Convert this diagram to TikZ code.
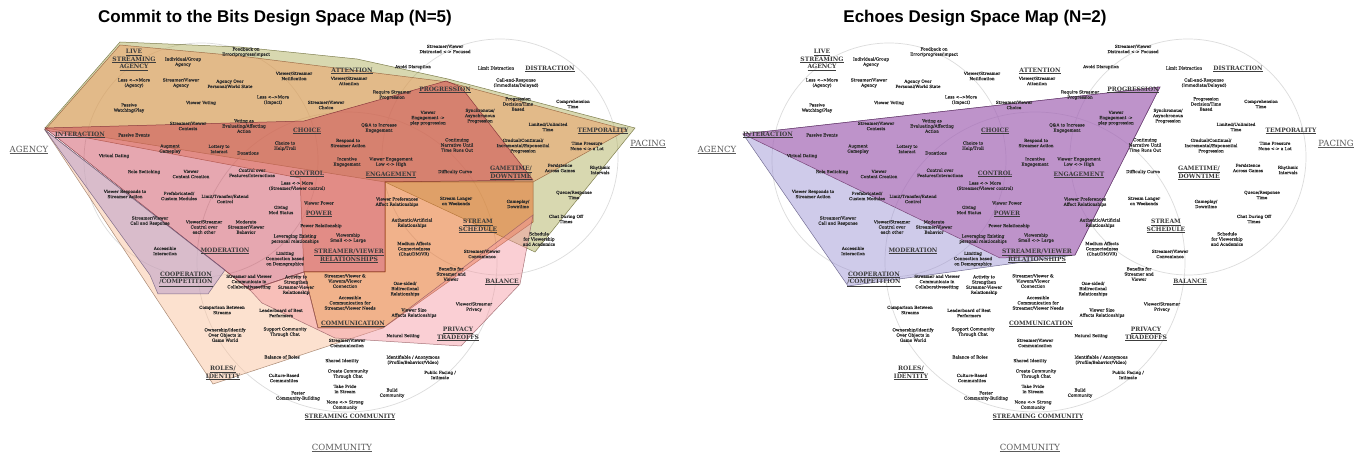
\documentclass[tikz,border=0pt]{standalone}
\usepackage{fontspec}
\setmainfont{DejaVu Serif}
\newfontfamily\itemfont{DejaVu Serif}[FakeBold=0.4]
\newfontfamily\titlefont{Liberation Sans}
\usetikzlibrary{backgrounds}
\definecolor{ringgray}{RGB}{220,220,220}
\definecolor{itemgray}{RGB}{45,45,45}
\definecolor{catgray}{RGB}{60,60,60}
\definecolor{axisgray}{RGB}{90,90,90}
\definecolor{cbolive}{RGB}{170,170,80}
\definecolor{cborange}{RGB}{240,150,90}
\definecolor{cbred}{RGB}{200,60,80}
\definecolor{cbamber}{RGB}{230,115,45}
\definecolor{cbmauve}{RGB}{175,145,200}
\definecolor{cbpeach}{RGB}{250,190,150}
\definecolor{cbpink}{RGB}{245,150,160}
\definecolor{echlav}{RGB}{150,140,210}
\definecolor{echpurple}{RGB}{170,80,165}
\tikzset{
  item/.style={font=\itemfont\fontsize{4.2}{5.2}\selectfont, align=center, text=itemgray, inner sep=0pt},
  cat/.style={font=\fontsize{6}{7.8}\selectfont\bfseries, align=center, text=catgray, inner sep=0pt},
  axis/.style={font=\fontsize{8.5}{10}\selectfont, text=axisgray, inner sep=0pt},
  heading/.style={font=\titlefont\bfseries\fontsize{17}{20}\selectfont, inner sep=0pt},
  ring/.style={draw=ringgray, line width=0.7pt},
  area/.style={fill opacity=0.45, draw opacity=0.8, line width=0.5pt},
}
\newcommand{\ul}[1]{\underline{#1}}
% the three rings of one map
\newcommand{\mapRings}{%
  \draw[ring] (201,160) circle (117);
  \draw[ring] (500,157) circle (118);
  \draw[ring] (347,262) circle (150);
}
% all the codes of one map
\newcommand{\mapLabels}{%
  \node[axis] (agency) at (29,150) {\ul{AGENCY}};
  \node[axis] (pacing) at (648,144) {\ul{PACING}};
  \node[axis] (community) at (342,448) {\ul{COMMUNITY}};
  % agency
  \node[cat] (live) at (134,60) {\ul{LIVE}\\\ul{STREAMING}\\\ul{AGENCY}};
  \node[item] (group) at (183,62) {Individual/Group\\Agency};
  \node[item] (lessag) at (134,83) {Less <-{}->More\\(Agency)};
  \node[item] (svag) at (181,83) {Streamer/Viewer\\Agency};
  \node[item] (world) at (230,84) {Agency Over\\Personal/World State};
  \node[item] (passive) at (129,108) {Passive\\Watching/Play};
  \node[item] (voting) at (201,103) {Viewer Voting};
  \node[cat] (interaction) at (80,135) {\ul{INTERACTION}};
  \node[item] (events) at (134,135) {Passive Events};
  \node[item] (contests) at (188,126) {Streamer/Viewer\\Contests};
  \node[item] (augment) at (170,149) {Augment\\Gameplay};
  \node[item] (lottery) at (219,149) {Lottery to\\Interact};
  \node[item] (dating) at (114,156) {Virtual Dating};
  \node[item] (roles) at (144,172) {Role Switching};
  \node[item] (content) at (191,174) {Viewer\\Content Creation};
  \node[item] (evaluate) at (244,126) {Voting as\\Evaluating/Affecting\\Action};
  \node[item] (feedback) at (246,52) {Feedback on\\Error/progress/impact};
  \node[item] (notify) at (294,76) {Viewer/Streamer\\Notification};
  \node[cat] (attention) at (352,71) {\ul{ATTENTION}};
  \node[item] (vsatt) at (349,81) {Viewer/Streamer\\Attention};
  \node[item] (disrupt) at (413,67) {Avoid Disruption};
  \node[item] (focus) at (445,49) {Streamer/Viewer\\Distracted <-> Focused};
  \node[item] (lessimp) at (273,100) {Less <-{}->More\\(Impact)};
  \node[item] (svchoice) at (326,105) {Streamer/Viewer\\Choice};
  \node[item] (require) at (392,95) {Require Streamer\\Progression};
  \node[cat] (progression) at (445,90) {\ul{PROGRESSION}};
  \node[item] (playprog) at (428,118) {Viewer\\Engagement ->\\play progression};
  \node[cat] (choice) at (307,131) {\ul{CHOICE}};
  \node[item] (qa) at (379,128) {Q\&A to Increase\\Engagement};
  \node[item] (troll) at (285,146) {Choice to\\Help/Troll};
  \node[item] (respond) at (348,143) {Respond to\\Streamer Action};
  \node[item] (donate) at (248,153) {Donations};
  \node[item] (incentive) at (347,162) {Incentive\\Engagement};
  \node[item] (lowhigh) at (391,162) {Viewer Engagement\\Low <-> High};
  \node[item] (features) at (252,173) {Control over\\Features/Interactions};
  \node[cat] (control) at (307,174) {\ul{CONTROL}};
  \node[cat] (engagement) at (391,175) {\ul{ENGAGEMENT}};
  % pacing
  \node[item] (narrative) at (457,145) {Continuing\\Narrative Until\\Time Runs Out};
  \node[item] (difficulty) at (455,172) {Difficulty Curve};
  \node[item] (sync) at (480,116) {Synchronous/\\Asynchronous\\Progression};
  \node[item] (limit) at (496,68) {Limit Distraction};
  \node[cat] (distraction) at (550,69) {\ul{DISTRACTION}};
  \node[item] (callresp) at (516,83) {Call-and-Response\\(Immediate/Delayed)};
  \node[item] (decision) at (518,104) {Progression\\Decision/Time\\Based};
  \node[item] (compre) at (573,104) {Comprehension\\Time};
  \node[item] (unlimited) at (548,127) {Limited/Unlimited\\Time};
  \node[cat] (temporality) at (603,131) {\ul{TEMPORALITY}};
  \node[item] (gradual) at (523,146) {Gradual/Continual/\\Incremental/Exponential\\Progression};
  \node[item] (pressure) at (587,146) {Time Pressure\\None <-> a Lot};
  \node[item] (persist) at (560,168) {Persistence\\Across Games};
  \node[item] (rhythm) at (600,170) {Rhythmic\\Intervals};
  \node[cat] (gametime) at (511,173) {\ul{GAMETIME/}\\\ul{DOWNTIME}};
  \node[item] (weekends) at (456,201) {Stream Longer\\on Weekends};
  \node[item] (downtime) at (518,204) {Gameplay/\\Downtime};
  \node[cat] (schedule) at (478,226) {\ul{STREAM}\\\ul{SCHEDULE}};
  \node[item] (queue) at (574,195) {Queue/Response\\Time};
  \node[item] (offtimes) at (566,219) {Chat During Off\\Times};
  \node[item] (academics) at (539,239) {Schedule\\for Viewership\\and Academics};
  \node[item] (convenience) at (482,254) {Streamer/Viewer\\Convenience};
  \node[item] (benefits) at (451,274) {Benefits for\\Streamer and\\Viewer};
  \node[cat] (balance) at (502,282) {\ul{BALANCE}};
  % relationships
  \node[item] (prefs) at (397,202) {Viewer Preferences\\Affect Relationships};
  \node[item] (authentic) at (412,223) {Authentic/Artificial\\Relationships};
  \node[item] (medium) at (414,249) {Medium Affects\\Connectedness\\(Chat/DM/VR)};
  \node[item] (lessctrl) at (297,186) {Less <-> More\\(Streamer/Viewer control)};
  \node[item] (vpower) at (319,203) {Viewer Power};
  \node[item] (mod) at (281,210) {Giving\\Mod Status};
  \node[cat] (power) at (319,214) {\ul{POWER}};
  \node[item] (transfer) at (225,199) {Limit/Transfer/Extend\\Control};
  \node[item] (moderate) at (246,227) {Moderate\\Streamer/Viewer\\Behavior};
  \node[item] (powerrel) at (321,226) {Power Relationship};
  \node[item] (leverage) at (295,239) {Leveraging Existing\\personal relationships};
  \node[item] (viewership) at (348,238) {Viewership\\Small <-> Large};
  \node[cat] (relations) at (349,256) {\ul{STREAMER/VIEWER}\\\ul{RELATIONSHIPS}};
  \node[item] (demog) at (285,259) {Limiting\\Connection based\\on Demographics};
  \node[item] (connect) at (345,281) {Streamer/Viewer \&\\Viewers/Viewer\\Connection};
  \node[item] (strengthen) at (296,285) {Activity to\\Strengthen\\Streamer-Viewer\\Relationship};
  \node[item] (collab) at (249,282) {Streamer and Viewer\\Communicate in\\Collaborativesetting};
  \node[item] (onesided) at (405,289) {One-sided/\\Bidirectional\\Relationships};
  \node[item] (needs) at (350,303) {Accessible\\Communication for\\Streamer/Viewer Needs};
  % interaction side
  \node[item] (responds) at (125,194) {Viewer Responds to\\Streamer Action};
  \node[item] (modules) at (179,196) {Prefabricated/\\Custom Modules};
  \node[item] (callsv) at (150,221) {Streamer/Viewer\\Call and Response};
  \node[item] (eachother) at (204,227) {Viewer/Streamer\\Control over\\each other};
  \node[item] (access) at (165,251) {Accessible\\Interaction};
  \node[cat] (moderation) at (225,251) {\ul{MODERATION}};
  \node[cat] (coop) at (186,279) {\ul{COOPERATION}\\\ul{/COMPETITION}};
  % community
  \node[item] (compare) at (222,310) {Comparison Between\\Streams};
  \node[item] (leader) at (281,313) {Leaderboard of Best\\Performers};
  \node[item] (size) at (414,313) {Viewer Size\\Affects Relationships};
  \node[cat] (communication) at (353,324) {\ul{COMMUNICATION}};
  \node[item] (owner) at (225,335) {Ownership/Identify\\Over Objects in\\Game World};
  \node[item] (support) at (285,332) {Support Community\\Through Chat};
  \node[item] (natural) at (403,336) {Natural Setting};
  \node[item] (svcomm) at (347,343) {Streamer/Viewer\\Communication};
  \node[item] (balroles) at (282,357) {Balance of Roles};
  \node[item] (shared) at (342,361) {Shared Identity};
  \node[item] (anon) at (413,360) {Identifiable / Anonymous\\(Profile/Behavior/Video)};
  \node[item] (privacy) at (474,307) {Viewer/Streamer\\Privacy};
  \node[cat] (tradeoffs) at (458,334) {\ul{PRIVACY}\\\ul{TRADEOFFS}};
  \node[cat] (identity) at (223,373) {\ul{ROLES/}\\\ul{IDENTITY}};
  \node[item] (culture) at (284,378) {Culture-Based\\Communities};
  \node[item] (create) at (348,374) {Create Community\\Through Chat};
  \node[item] (public) at (440,375) {Public Facing /\\Intimate};
  \node[item] (pride) at (345,389) {Take Pride\\in Stream};
  \node[item] (foster) at (298,396) {Foster\\Community-Building};
  \node[item] (build) at (392,393) {Build\\Community};
  \node[item] (strong) at (345,405) {None <-> Strong\\Community};
  \node[cat] (streaming) at (350,417) {\ul{STREAMING COMMUNITY}};
}

\begin{document}
\begin{tikzpicture}[x=1pt, y=-1pt]
  \useasboundingbox[fill=white] (0,0) rectangle (1361,454);
  \node[heading] (title1) at (275,18) {Commit to the Bits Design Space Map (N=5)};
  \node[heading] (title2) at (975,18) {Echoes Design Space Map (N=2)};
  % Commit to the Bits
  \begin{scope}[name prefix=cb-]
    \mapRings
    \fill[area, cbolive, draw=cbolive!60!black] (45,128) -- (120,42) -- (240,47) -- (357,59) -- (448,79) -- (635,128) -- (535,252) -- (385,182) -- cycle;
    \fill[area, cborange, draw=cborange!60!black] (45,130) -- (120,45) -- (240,56) -- (448,82) -- (627,130) -- (533,182) -- (385,182) -- (385,272) -- (304,272) -- (300,178) -- cycle;
    \fill[area, cbpeach, draw=cbpeach!60!black] (45,130) -- (213,384) -- (383,328) -- (318,328) -- (304,272) -- (250,290) -- cycle;
    \fill[area, cbred, draw=cbred!60!black] (45,128) -- (304,121) -- (446,81) -- (461,87) -- (533,180) -- (385,182) -- (385,272) -- (304,272) -- (250,290) -- cycle;
    \fill[area, cbamber, fill opacity=0.55, draw=cbamber!60!black] (385,182) -- (533,182) -- (533,222) -- (383,328) -- (318,328) -- (304,272) -- (385,272) -- cycle;
    \fill[area, cbmauve, draw=cbmauve!60!black] (45,130) -- (225,270) -- (208,294) -- (158,294) -- (150,275) -- cycle;
    \fill[area, cbpink, draw=cbpink!60!black] (250,290) -- (304,272) -- (318,328) -- (383,328) -- (533,215) -- (520,284) -- (461,346) -- (335,338) -- (262,303) -- cycle;
    \mapLabels
  \end{scope}
  % Echoes
  \begin{scope}[shift={(688,0)}, name prefix=ec-]
    \mapRings
    \fill[area, echlav, draw=echlav!60!black] (55,134) -- (472,87) -- (387,255) -- (160,286) -- cycle;
    \fill[area, echpurple, draw=echpurple!60!black] (55,134) -- (472,87) -- (387,255) -- (312,258) -- cycle;
    \mapLabels
  \end{scope}
\end{tikzpicture}
\end{document}
